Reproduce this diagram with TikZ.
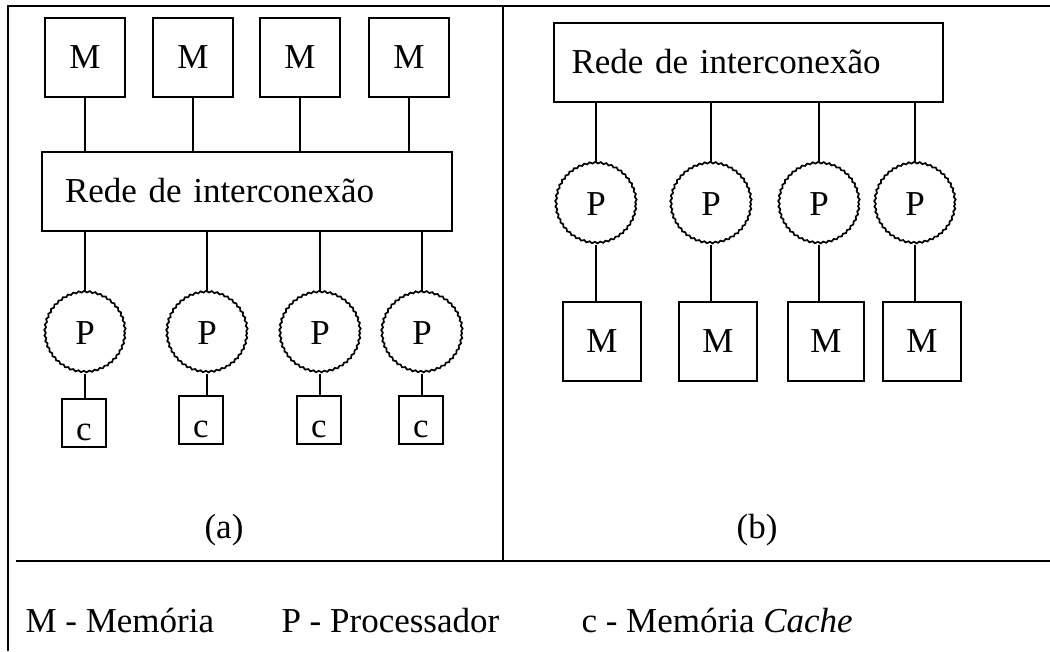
\documentclass[tikz,border=0pt]{standalone}
\usepackage{fontspec}
\setmainfont{Liberation Serif}
\usepackage{tikz}
\usetikzlibrary{positioning,decorations.pathmorphing}

\begin{document}
\begin{tikzpicture}[
    x=1pt, y=-1pt,
    every node/.style={font=\fontsize{35}{40}\selectfont},
    frame/.style={line width=2pt},
    link/.style={line width=2pt},
    membox/.style={draw, line width=2pt, minimum width=80pt, minimum height=79pt, inner sep=0pt},
    proc/.style={circle, draw, line width=1.7pt, minimum size=80pt, inner sep=0pt,
        decorate, decoration={snake, segment length=5.5pt, amplitude=0.8pt}},
    cachebox/.style={draw, line width=2pt, minimum width=44pt, inner sep=2pt, text height=39pt, text depth=5pt},
    netbox/.style={draw, line width=2pt, minimum height=79pt, inner ysep=0pt, align=left}
]
\useasboundingbox (0,0) rectangle (1050,651);

% Frame
\draw[frame] (8,651) -- (8,6) -- (1050,6);
\draw[frame] (503,6) -- (503,561);
\draw[frame] (16,561) -- (1050,561);

% (a) memories, network, processors, caches
\node[membox] (ma1) at (85,57) {M};
\node[membox] (ma2) at (193,57) {M};
\node[membox] (ma3) at (300,57) {M};
\node[membox] (ma4) at (409,57) {M};
\node[netbox, text width=364pt, inner xsep=23pt] (neta) at (247,191) {Rede de interconexão};
\node[proc] (pa1) at (85,333) {P};
\node[proc] (pa2) at (207,333) {P};
\node[proc] (pa3) at (320,333) {P};
\node[proc] (pa4) at (422,333) {P};
\node[cachebox] (ca1) at (84,423) {c};
\node[cachebox] (ca2) at (201,420) {c};
\node[cachebox] (ca3) at (319,420) {c};
\node[cachebox] (ca4) at (421,420) {c};

\draw[link] (ma1) -- (ma1 |- neta.north);
\draw[link] (ma2) -- (ma2 |- neta.north);
\draw[link] (ma3) -- (ma3 |- neta.north);
\draw[link] (ma4) -- (ma4 |- neta.north);
\draw[link] (pa1) -- (pa1 |- neta.south);
\draw[link] (pa2) -- (pa2 |- neta.south);
\draw[link] (pa3) -- (pa3 |- neta.south);
\draw[link] (pa4) -- (pa4 |- neta.south);
\draw[link] (pa1.south) -- (pa1.south |- ca1.north);
\draw[link] (pa2.south) -- (pa2.south |- ca2.north);
\draw[link] (pa3.south) -- (pa3.south |- ca3.north);
\draw[link] (pa4.south) -- (pa4.south |- ca4.north);

% (b) network, processors, memories
\node[netbox, text width=353pt, inner xsep=18pt] (netb) at (748,62) {Rede de interconexão};
\node[proc] (pb1) at (596,204) {P};
\node[proc] (pb2) at (711,204) {P};
\node[proc] (pb3) at (819,204) {P};
\node[proc] (pb4) at (915,204) {P};
\node[membox, minimum width=78pt] (mb1) at (602,341) {M};
\node[membox, minimum width=78pt] (mb2) at (718,341) {M};
\node[membox, minimum width=76pt] (mb3) at (826,341) {M};
\node[membox, minimum width=78pt] (mb4) at (922,341) {M};

\draw[link] (pb1) -- (pb1 |- netb.south);
\draw[link] (pb2) -- (pb2 |- netb.south);
\draw[link] (pb3) -- (pb3 |- netb.south);
\draw[link] (pb4) -- (pb4 |- netb.south);
\draw[link] (pb1.south) -- (pb1.south |- mb1.north);
\draw[link] (pb2.south) -- (pb2.south |- mb2.north);
\draw[link] (pb3.south) -- (pb3.south |- mb3.north);
\draw[link] (pb4.south) -- (pb4.south |- mb4.north);

% Labels
\node[anchor=base] (capa) at (224,538) {(a)};
\node[anchor=base] (capb) at (757,538) {(b)};
\node[anchor=base west] (legm) at (22,632) {M - Memória};
\node[anchor=base west] (legp) at (278,632) {P - Processador};
\node[anchor=base west] (legc) at (578,632) {c - Memória \textit{Cache}};

\end{tikzpicture}
\end{document}
